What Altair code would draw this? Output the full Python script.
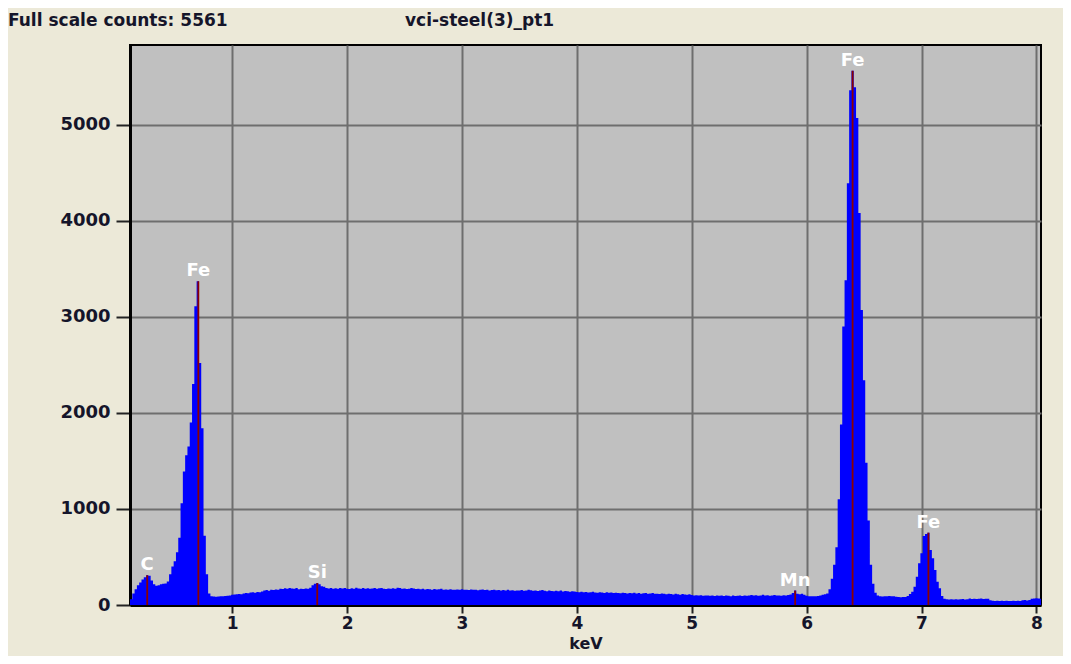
import altair as alt
import pandas as pd

# ---- spectrum: counts per 0.02 keV channel, channel centres starting at 0.10 keV ----
CHANNEL_START = 0.10
CHANNEL_WIDTH = 0.02

counts_low = [  # 0.10 - 0.88 keV (C K and Fe L)
    20, 60, 120, 165, 205, 235, 265, 290, 310, 305,
    255, 215, 200, 205, 215, 220, 225, 245, 320, 400,
    455, 550, 700, 1060, 1390, 1560, 1650, 1900, 2300, 3110,
    3370, 2520, 1840, 720, 320, 120, 92, 88, 86, 88,
]
counts_mid = [  # 0.90 - 6.08 keV (bremsstrahlung, Si K, Mn K)
    90, 92, 94, 96, 100, 108, 110, 112, 115, 112,
    120, 124, 122, 130, 132, 128, 136, 134, 140, 150,
    155, 148, 158, 156, 162, 158, 170, 166, 174, 168,
    178, 172, 168, 176, 165, 170, 166, 172, 168, 180,
    205, 222, 228, 215, 196, 190, 178, 172, 176, 170,
    174, 168, 176, 172, 178, 170, 166, 174, 170, 180,
    172, 168, 176, 170, 174, 168, 172, 176, 170, 174,
    178, 170, 166, 172, 168, 174, 170, 180, 176, 168,
    172, 166, 170, 178, 172, 166, 168, 164, 168, 162,
    166, 164, 160, 166, 162, 164, 168, 160, 162, 158,
    164, 160, 158, 162, 160, 164, 158, 160, 156, 162,
    158, 160, 154, 158, 162, 156, 158, 152, 156, 160,
    154, 156, 150, 156, 152, 158, 150, 154, 148, 152,
    150, 156, 148, 152, 160, 154, 148, 152, 146, 150,
    156, 148, 144, 150, 146, 142, 148, 144, 150, 140,
    146, 142, 138, 144, 140, 136, 134, 138, 132, 136,
    130, 134, 138, 130, 128, 134, 130, 126, 132, 128,
    130, 124, 128, 126, 122, 128, 124, 120, 126, 122,
    128, 120, 124, 118, 122, 126, 118, 120, 124, 116,
    118, 114, 120, 116, 112, 118, 114, 110, 116, 112,
    108, 114, 110, 106, 112, 104, 100, 102, 98, 102,
    96, 100, 98, 96, 100, 94, 98, 96, 100, 94,
    98, 96, 92, 98, 94, 96, 100, 94, 98, 96,
    100, 104, 98, 102, 96, 100, 106, 98, 102, 96,
    100, 104, 98, 100, 96, 102, 98, 104, 110, 125,
    150, 118, 112, 116, 108, 96, 92, 90, 92, 90,
]
counts_high = [  # 6.10 - 8.04 keV (Fe K alpha, Fe K beta)
    94, 98, 108, 112, 120, 165, 274, 420, 600, 1100,
    1880, 2900, 3380, 4390, 5360, 5561, 5390, 5070, 4080, 3070,
    2340, 1480, 880, 420, 220, 128, 100, 92, 88, 90,
    92, 94, 92, 90, 86, 82, 80, 82, 84, 95,
    115, 139, 191, 295, 434, 538, 719, 740, 753, 573,
    486, 365, 243, 174, 94, 64, 60, 58, 60, 58,
    60, 58, 60, 62, 58, 60, 68, 62, 66, 62,
    64, 68, 62, 64, 66, 50, 44, 42, 44, 42,
    44, 42, 44, 42, 42, 44, 42, 44, 42, 50,
    52, 48, 52, 64, 68, 70, 68, 66,
]

# ---- element markers ----
element_names = ["C", "Fe", "Si", "Mn", "Fe", "Fe"]
element_kev = [0.26, 0.705, 1.74, 5.90, 6.40, 7.06]
element_counts = [310, 3370, 228, 150, 5561, 753]

# ---- axes ----
x_ticks = [1, 2, 3, 4, 5, 6, 7, 8]
y_ticks = [0, 1000, 2000, 3000, 4000, 5000]
X_DOMAIN = [0.11, 8.04]
Y_DOMAIN = [0, 5830]

header_left = "Full scale counts: 5561"
header_right = "vci-steel(3)_pt1"

counts = counts_low + counts_mid + counts_high
energies = [round(CHANNEL_START + i * CHANNEL_WIDTH, 2) for i in range(len(counts))]
spec = pd.DataFrame({"keV": energies, "counts": counts})
elem = pd.DataFrame({"name": element_names, "keV": element_kev, "counts": element_counts})

FONT = "DejaVu Sans"
TXT = "#15152a"

x_enc = alt.X("keV:Q", scale=alt.Scale(domain=X_DOMAIN, nice=False, zero=False),
              axis=alt.Axis(values=x_ticks, title="keV", format="d"))
y_enc = alt.Y("counts:Q", scale=alt.Scale(domain=Y_DOMAIN, nice=False),
              axis=alt.Axis(values=y_ticks, title=None, format="d"))

area = alt.Chart(spec).mark_area(interpolate="step", color="#0000FF", clip=True).encode(
    x=x_enc, y=y_enc
)

rules = alt.Chart(elem).mark_rule(color="#8B0000", strokeWidth=1.8).encode(
    x="keV:Q", y=alt.Y("counts:Q"), y2=alt.datum(0)
)

labels = alt.Chart(elem).mark_text(
    color="white", font=FONT, fontWeight="bold", fontSize=18,
    baseline="alphabetic", dy=-5
).encode(x="keV:Q", y="counts:Q", text="name:N")

hdr = pd.DataFrame({"t": [header_left]})
hdr_left = alt.Chart(hdr).mark_text(
    align="left", baseline="alphabetic", font=FONT, fontWeight="bold", fontSize=17, color=TXT
).encode(x=alt.value(-122), y=alt.value(-19), text="t:N")
hdr2 = pd.DataFrame({"t": [header_right]})
hdr_right = alt.Chart(hdr2).mark_text(
    align="left", baseline="alphabetic", font=FONT, fontWeight="bold", fontSize=17, color=TXT
).encode(x=alt.value(275), y=alt.value(-19), text="t:N")

chart = alt.layer(area, rules, labels, hdr_left, hdr_right).properties(
    width=911, height=560,
    autosize=alt.AutoSizeParams(type="none"),
    padding={"left": 122, "top": 37, "right": 22, "bottom": 51},
    background="#ECE9D8",
).configure_view(
    fill="#C0C0C0", stroke="#000000", strokeWidth=2
).configure_axis(
    grid=True, gridColor="#6E6E6E", gridWidth=2,
    domainColor="#000000", domainWidth=3,
    tickColor="#222222", tickWidth=2,
    labelFont=FONT, labelFontWeight="bold", labelFontSize=18, labelColor=TXT,
    titleFont=FONT, titleFontWeight="bold", titleFontSize=16, titleColor=TXT,
).configure_axisX(
    tickSize=8, labelPadding=2, titlePadding=4, labelFontSize=17
).configure_axisY(
    tickSize=14, labelPadding=6
)

chart.save("out.html", embed_options={"renderer": "svg", "actions": False})
